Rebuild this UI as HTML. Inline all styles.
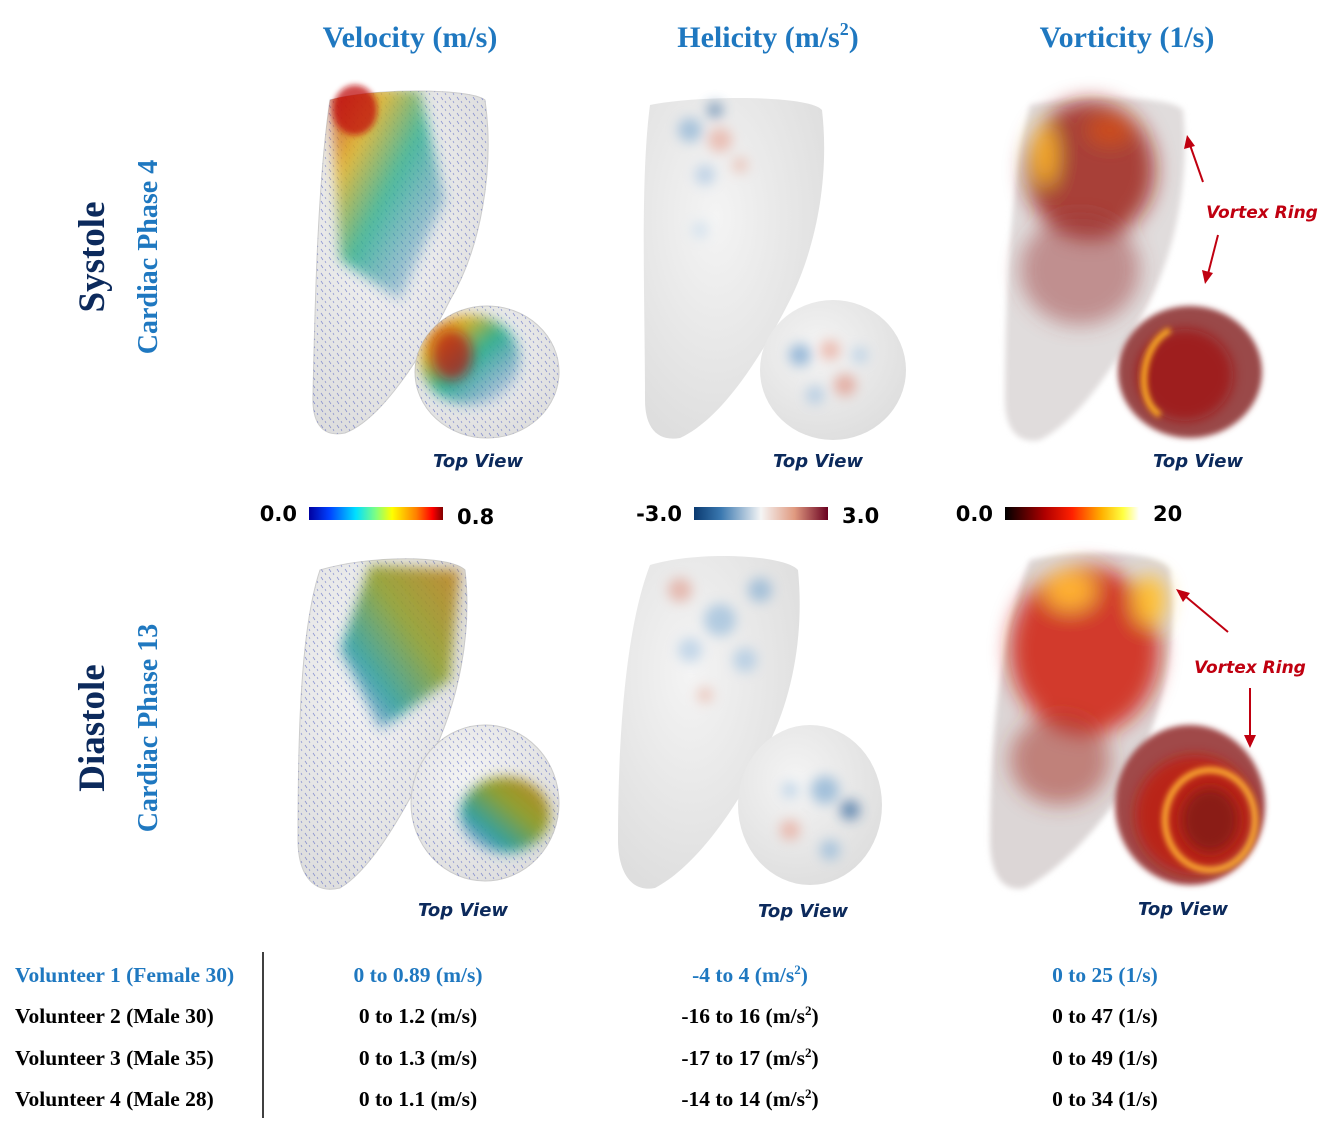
<!DOCTYPE html>
<html><head><meta charset="utf-8">
<style>
html,body{margin:0;padding:0;background:#fff;}
#fig{position:relative;width:1331px;height:1133px;overflow:hidden;}
svg{position:absolute;left:0;top:0;}
.t{font-family:"Liberation Serif",serif;font-weight:bold;}
.s{font-family:"DejaVu Sans","Liberation Sans",sans-serif;font-weight:bold;}
</style></head>
<body>
<div id="fig">
<svg width="1331" height="1133" viewBox="0 0 1331 1133">
<defs>
  <filter id="blur6" x="-50%" y="-50%" width="200%" height="200%"><feGaussianBlur stdDeviation="6"/></filter>
  <filter id="blur10" x="-50%" y="-50%" width="200%" height="200%"><feGaussianBlur stdDeviation="10"/></filter>
  <filter id="blur3" x="-50%" y="-50%" width="200%" height="200%"><feGaussianBlur stdDeviation="3"/></filter>
  <radialGradient id="shade" cx="40%" cy="35%" r="75%"><stop offset="0" stop-color="#f4f4f4"/><stop offset="1" stop-color="#dcdcdc"/></radialGradient>
  <pattern id="speck" width="8" height="8" patternUnits="userSpaceOnUse"><path d="M1,1 l2,3 M5,5 l1,2" stroke="#3344bb" stroke-width="0.7"/></pattern>
  <linearGradient id="velSys" x1="0" y1="0" x2="1" y2="1"><stop offset="0" stop-color="#c0100c"/><stop offset="0.25" stop-color="#e0b020"/><stop offset="0.5" stop-color="#30b090"/><stop offset="1" stop-color="#3060c0" stop-opacity="0"/></linearGradient>
  <linearGradient id="velDia" x1="1" y1="0" x2="0" y2="1"><stop offset="0" stop-color="#c08020"/><stop offset="0.4" stop-color="#90a030"/><stop offset="0.7" stop-color="#30a0a0"/><stop offset="1" stop-color="#3050c0" stop-opacity="0"/></linearGradient>
  <linearGradient id="cbVel" x1="0" x2="1"><stop offset="0" stop-color="#0000a0"/><stop offset="0.15" stop-color="#0040ff"/><stop offset="0.35" stop-color="#00e0ff"/><stop offset="0.5" stop-color="#80ff80"/><stop offset="0.62" stop-color="#ffff00"/><stop offset="0.8" stop-color="#ff8000"/><stop offset="0.92" stop-color="#ff0000"/><stop offset="1" stop-color="#800000"/></linearGradient>
  <linearGradient id="cbHel" x1="0" x2="1"><stop offset="0" stop-color="#0a3a70"/><stop offset="0.2" stop-color="#3a78b0"/><stop offset="0.5" stop-color="#f5f5f5"/><stop offset="0.75" stop-color="#e09a80"/><stop offset="1" stop-color="#6a0020"/></linearGradient>
  <linearGradient id="cbVor" x1="0" x2="1"><stop offset="0" stop-color="#000"/><stop offset="0.3" stop-color="#b00000"/><stop offset="0.5" stop-color="#ff2000"/><stop offset="0.72" stop-color="#ffb000"/><stop offset="0.88" stop-color="#ffff40"/><stop offset="1" stop-color="#ffffff"/></linearGradient>
  <clipPath id="cVS"><path d="M330,100 C370,88 470,88 485,100 C495,170 480,250 450,300 C420,360 380,420 345,433 C320,438 312,420 313,395 C315,300 318,180 330,100Z"/></clipPath>
  <clipPath id="cVST"><ellipse cx="487" cy="372" rx="72" ry="66"/></clipPath>
  <clipPath id="cVD"><path d="M320,570 C370,555 450,555 465,570 C472,630 460,700 430,760 C400,820 370,870 340,888 C310,895 298,870 298,840 C298,740 300,630 320,570Z"/></clipPath>
  <clipPath id="cVDT"><ellipse cx="485" cy="803" rx="74" ry="78"/></clipPath>
</defs>

<text class="t" x="410" y="47" font-size="30" fill="#1f78c0" text-anchor="middle">Velocity (m/s)</text>
<text class="t" x="768" y="47" font-size="30" fill="#1f78c0" text-anchor="middle">Helicity (m/s<tspan font-size="18" dy="-12">2</tspan><tspan dy="12">)</tspan></text>
<text class="t" x="1127" y="47" font-size="30" fill="#1f78c0" text-anchor="middle">Vorticity (1/s)</text>

<text class="t" transform="translate(104,257) rotate(-90)" font-size="37" fill="#0c2a5c" text-anchor="middle">Systole</text>
<text class="t" transform="translate(157,257) rotate(-90)" font-size="28" fill="#1f78c0" text-anchor="middle">Cardiac Phase 4</text>
<text class="t" transform="translate(104,728) rotate(-90)" font-size="37" fill="#0c2a5c" text-anchor="middle">Diastole</text>
<text class="t" transform="translate(157,728) rotate(-90)" font-size="28" fill="#1f78c0" text-anchor="middle">Cardiac Phase 13</text>

<g>
  <path d="M330,100 C370,88 470,88 485,100 C495,170 480,250 450,300 C420,360 380,420 345,433 C320,438 312,420 313,395 C315,300 318,180 330,100Z" fill="url(#shade)" stroke="#ccc"/>
  <g clip-path="url(#cVS)"><rect x="300" y="80" width="200" height="360" fill="url(#speck)" opacity="0.55"/>
  <path d="M330,85 L420,90 L445,200 L400,300 L340,260Z" fill="url(#velSys)" opacity="0.85" filter="url(#blur6)"/></g>
  <ellipse cx="355" cy="110" rx="22" ry="25" fill="#c01010" opacity="0.75" filter="url(#blur3)"/>
</g>
<g>
  <ellipse cx="487" cy="372" rx="72" ry="66" fill="url(#shade)" stroke="#ccc"/>
  <g clip-path="url(#cVST)"><rect x="410" y="300" width="160" height="150" fill="url(#speck)" opacity="0.55"/>
  <ellipse cx="470" cy="360" rx="50" ry="45" fill="url(#velSys)" filter="url(#blur6)"/>
  <ellipse cx="452" cy="355" rx="20" ry="25" fill="#b81010" opacity="0.7" filter="url(#blur6)"/></g>
</g>

<g>
  <path d="M650,105 C700,95 810,95 822,110 C830,180 815,250 790,300 C760,360 720,420 680,438 C655,442 645,425 645,400 C645,300 640,180 650,105Z" fill="url(#shade)"/>
  <g filter="url(#blur6)" opacity="0.6"><circle cx="690" cy="130" r="12" fill="#7aa8d0"/><circle cx="720" cy="140" r="12" fill="#e8a090"/><circle cx="705" cy="175" r="10" fill="#a0c0e0"/><circle cx="740" cy="165" r="8" fill="#e8b0a0"/><circle cx="715" cy="110" r="8" fill="#4070a0"/><circle cx="700" cy="230" r="8" fill="#c0d8ec"/></g>
</g>
<g>
  <ellipse cx="833" cy="370" rx="73" ry="70" fill="url(#shade)"/>
  <g filter="url(#blur6)" opacity="0.65"><circle cx="800" cy="355" r="11" fill="#6a9ccc"/><circle cx="830" cy="350" r="10" fill="#e8a090"/><circle cx="845" cy="385" r="11" fill="#e09080"/><circle cx="815" cy="395" r="9" fill="#9ec0e0"/><circle cx="860" cy="355" r="8" fill="#a8c8e4"/></g>
</g>

<g>
  <path d="M1030,105 C1080,95 1170,95 1183,110 C1190,180 1175,250 1150,300 C1120,360 1080,420 1040,440 C1015,445 1005,425 1005,400 C1005,300 1010,180 1030,105Z" fill="#e0dcdc" filter="url(#blur3)"/>
  <g filter="url(#blur10)"><ellipse cx="1090" cy="170" rx="65" ry="70" fill="#9a1a10" opacity="0.8"/><ellipse cx="1080" cy="270" rx="60" ry="55" fill="#a04040" opacity="0.5"/><ellipse cx="1045" cy="155" rx="10" ry="30" fill="#ffb020"/><ellipse cx="1110" cy="130" rx="22" ry="14" fill="#e05010" opacity="0.7"/></g>
</g>
<g>
  <ellipse cx="1190" cy="372" rx="72" ry="66" fill="#9a4a48" filter="url(#blur3)"/>
  <ellipse cx="1185" cy="375" rx="48" ry="46" fill="#a01010" opacity="0.7" filter="url(#blur6)"/>
  <path d="M1170,330 C1140,345 1135,400 1160,415" stroke="#ffb020" stroke-width="6" fill="none" filter="url(#blur3)"/>
</g>

<g>
  <line x1="1203" y1="182" x2="1190" y2="145" stroke="#c00010" stroke-width="2"/><path d="M1187,135 L1184,149 L1195,146Z" fill="#c00010"/>
  <text class="s" x="1262" y="218" font-size="17" font-style="italic" fill="#c00010" text-anchor="middle">Vortex Ring</text>
  <line x1="1218" y1="235" x2="1208" y2="274" stroke="#c00010" stroke-width="2"/><path d="M1205,284 L1202,270 L1213,273Z" fill="#c00010"/>
</g>

<text class="s" x="478" y="467" font-size="18" font-style="italic" fill="#0c2a5c" text-anchor="middle">Top View</text>
<text class="s" x="818" y="467" font-size="18" font-style="italic" fill="#0c2a5c" text-anchor="middle">Top View</text>
<text class="s" x="1198" y="467" font-size="18" font-style="italic" fill="#0c2a5c" text-anchor="middle">Top View</text>

<g id="colorbars"></g>

<g>
  <path d="M320,570 C370,555 450,555 465,570 C472,630 460,700 430,760 C400,820 370,870 340,888 C310,895 298,870 298,840 C298,740 300,630 320,570Z" fill="url(#shade)" stroke="#ccc"/>
  <g clip-path="url(#cVD)"><rect x="290" y="550" width="190" height="350" fill="url(#speck)" opacity="0.55"/>
  <path d="M370,565 L460,570 L450,680 L380,730 L340,650Z" fill="url(#velDia)" opacity="0.9" filter="url(#blur6)"/></g>
</g>
<g>
  <ellipse cx="485" cy="803" rx="74" ry="78" fill="url(#shade)" stroke="#ccc"/>
  <g clip-path="url(#cVDT)"><rect x="405" y="720" width="160" height="170" fill="url(#speck)" opacity="0.55"/>
  <ellipse cx="505" cy="815" rx="45" ry="38" fill="url(#velDia)" filter="url(#blur6)"/></g>
</g>

<g>
  <path d="M650,565 C700,550 785,555 798,570 C805,640 790,710 760,760 C730,820 690,870 655,888 C630,893 618,870 618,840 C618,740 625,630 650,565Z" fill="url(#shade)"/>
  <g filter="url(#blur6)" opacity="0.6"><circle cx="680" cy="590" r="12" fill="#e09888"/><circle cx="720" cy="620" r="16" fill="#8ab4d8"/><circle cx="760" cy="590" r="12" fill="#7aa8d0"/><circle cx="690" cy="650" r="12" fill="#a4c4e2"/><circle cx="745" cy="660" r="12" fill="#9cc0e0"/><circle cx="705" cy="695" r="8" fill="#e8b0a0"/></g>
</g>
<g>
  <ellipse cx="810" cy="805" rx="72" ry="80" fill="url(#shade)"/>
  <g filter="url(#blur6)" opacity="0.65"><circle cx="825" cy="790" r="14" fill="#7aa8d0"/><circle cx="850" cy="810" r="10" fill="#2a609a"/><circle cx="790" cy="830" r="10" fill="#e8a090"/><circle cx="830" cy="850" r="10" fill="#8ab4d8"/><circle cx="790" cy="790" r="8" fill="#a8c8e4"/></g>
</g>

<g>
  <path d="M1030,560 C1080,548 1160,550 1170,570 C1178,640 1165,700 1140,760 C1110,820 1060,870 1025,888 C1000,893 990,870 990,840 C990,740 1000,630 1030,560Z" fill="#dcd6d6" filter="url(#blur3)"/>
  <g filter="url(#blur10)"><ellipse cx="1085" cy="650" rx="75" ry="85" fill="#d02010" opacity="0.85"/><ellipse cx="1060" cy="760" rx="50" ry="45" fill="#a83a30" opacity="0.55"/><ellipse cx="1070" cy="590" rx="25" ry="20" fill="#ffb030"/><ellipse cx="1150" cy="600" rx="16" ry="25" fill="#ffc030"/></g>
</g>
<g>
  <ellipse cx="1190" cy="805" rx="75" ry="80" fill="#a04a48" filter="url(#blur3)"/>
  <ellipse cx="1195" cy="815" rx="60" ry="60" fill="#c01c10" opacity="0.8" filter="url(#blur6)"/>
  <ellipse cx="1210" cy="820" rx="45" ry="50" fill="none" stroke="#ffb030" stroke-width="6" filter="url(#blur3)"/>
  <ellipse cx="1210" cy="820" rx="28" ry="32" fill="#8a1a18" filter="url(#blur6)"/>
</g>

<g>
  <line x1="1228" y1="632" x2="1185" y2="596" stroke="#c00010" stroke-width="2"/><path d="M1176,589 L1183,602 L1190,593Z" fill="#c00010"/>
  <text class="s" x="1250" y="673" font-size="17" font-style="italic" fill="#c00010" text-anchor="middle">Vortex Ring</text>
  <line x1="1250" y1="688" x2="1250" y2="736" stroke="#c00010" stroke-width="2"/><path d="M1244,735 L1256,735 L1250,748Z" fill="#c00010"/>
</g>

<text class="s" x="463" y="916" font-size="18" font-style="italic" fill="#0c2a5c" text-anchor="middle">Top View</text>
<text class="s" x="803" y="917" font-size="18" font-style="italic" fill="#0c2a5c" text-anchor="middle">Top View</text>
<text class="s" x="1183" y="915" font-size="18" font-style="italic" fill="#0c2a5c" text-anchor="middle">Top View</text>

<line x1="263" y1="952" x2="263" y2="1118" stroke="#000" stroke-width="1.5"/>
<g id="table"></g>
</svg>
</div>
<script>
const NS='http://www.w3.org/2000/svg';
const cbMin=['0.0','-3.0','0.0'];
const cbMax=['0.8','3.0','20'];
const cbFill=['cbVel','cbHel','cbVor'];
const cbX=[309,694,1005];
const cbW=134;
const cb=document.getElementById('colorbars');
for(let i=0;i<3;i++){
  const r=document.createElementNS(NS,'rect');
  r.setAttribute('x',cbX[i]);r.setAttribute('y',507);r.setAttribute('width',cbW);r.setAttribute('height',13);
  r.setAttribute('fill','url(#'+cbFill[i]+')');
  
  
  cb.appendChild(r);
  const a=document.createElementNS(NS,'text');
  a.setAttribute('x',cbX[i]-12);a.setAttribute('y',521);a.setAttribute('text-anchor','end');
  a.setAttribute('class','s');a.setAttribute('font-size','21');a.textContent=cbMin[i];
  
  
  cb.appendChild(a);
  const b=document.createElementNS(NS,'text');
  b.setAttribute('x',cbX[i]+cbW+14);b.setAttribute('y',i==0?524:(i==1?523:521));
  b.setAttribute('class','s');b.setAttribute('font-size','21');b.textContent=cbMax[i];
  
  
  cb.appendChild(b);
}
const volunteers=['Volunteer 1 (Female 30)','Volunteer 2 (Male 30)','Volunteer 3 (Male 35)','Volunteer 4 (Male 28)'];
const velRange=['0 to 0.89 (m/s)','0 to 1.2 (m/s)','0 to 1.3 (m/s)','0 to 1.1 (m/s)'];
const helRange=['-4 to 4','-16 to 16','-17 to 17','-14 to 14'];
const vorRange=['0 to 25 (1/s)','0 to 47 (1/s)','0 to 49 (1/s)','0 to 34 (1/s)'];
const rowY=[982,1023,1065,1106];
const tb=document.getElementById('table');
function txt(x,y,s,col,anchor,html){
  const t=document.createElementNS(NS,'text');
  t.setAttribute('x',x);t.setAttribute('y',y);t.setAttribute('class','t');
  t.setAttribute('font-size','21.5');t.setAttribute('fill',col);t.setAttribute('text-anchor',anchor);
  
  
  if(html) t.innerHTML=s; else t.textContent=s;
  tb.appendChild(t);
}
for(let i=0;i<4;i++){
  const col=i==0?'#1f78c0':'#000';
  txt(15,rowY[i],volunteers[i],col,'start');
  txt(418,rowY[i],velRange[i],col,'middle');
  txt(750,rowY[i],helRange[i]+' (m/s<tspan font-size="13" dy="-8">2</tspan><tspan dy="8">)</tspan>',col,'middle',true);
  txt(1105,rowY[i],vorRange[i],col,'middle');
}
</script>
</body></html>
